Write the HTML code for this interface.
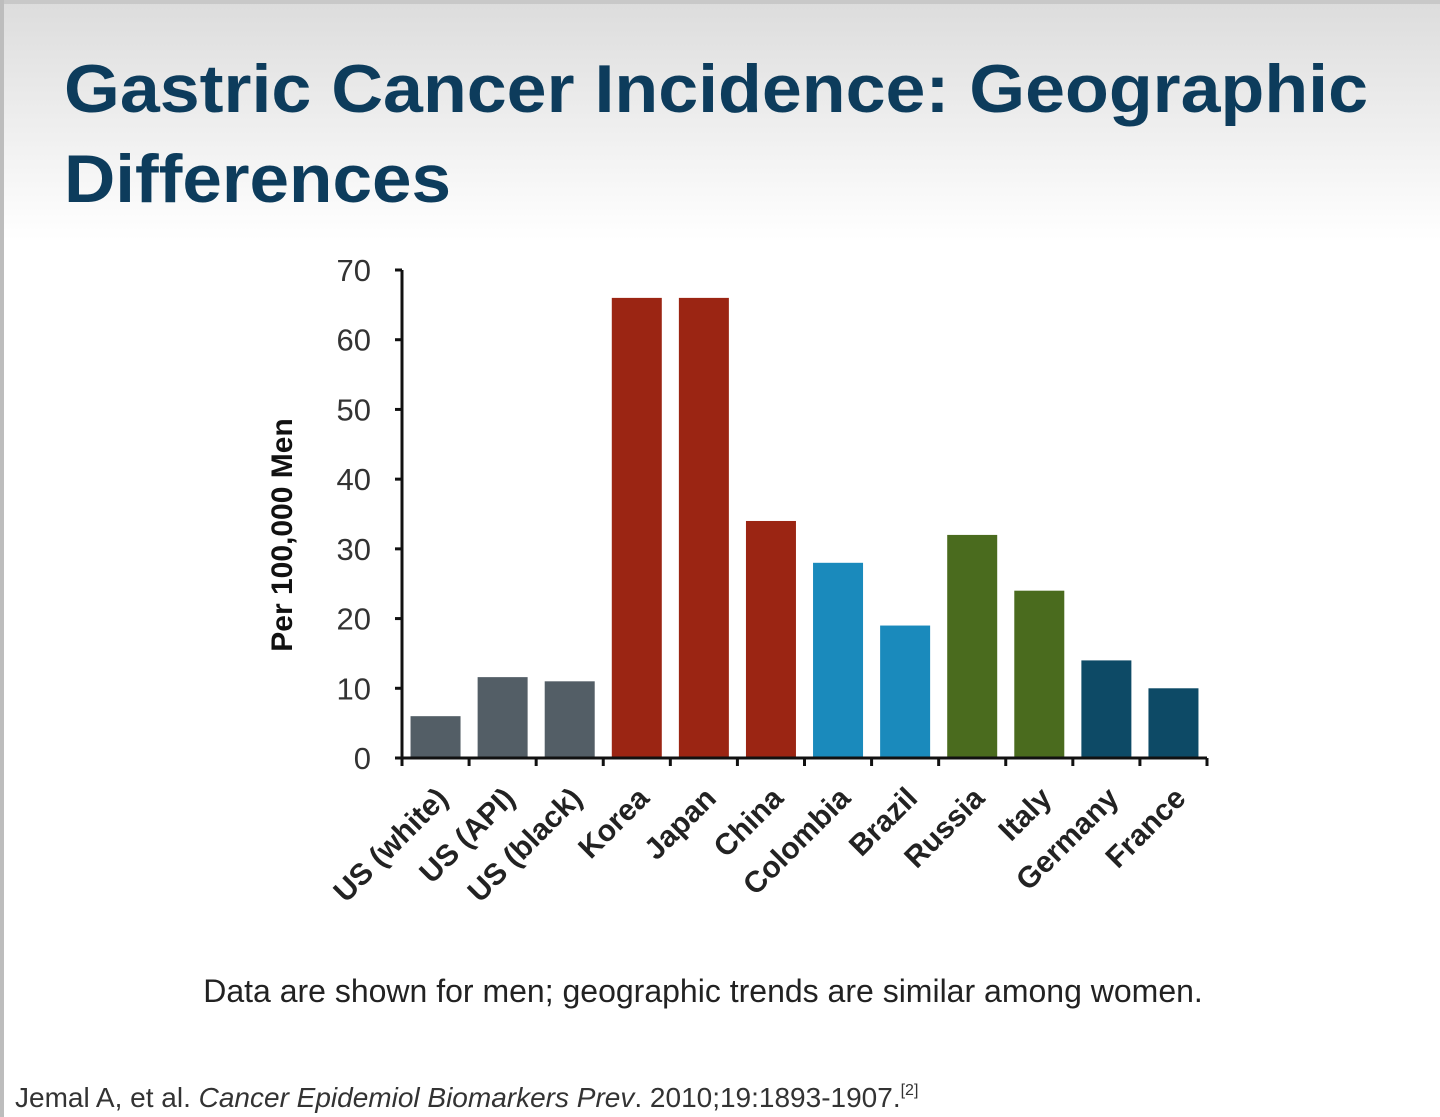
<!DOCTYPE html>
<html><head><meta charset="utf-8">
<style>
html,body{margin:0;padding:0;width:1440px;height:1117px;overflow:hidden;background:#fff;font-family:"Liberation Sans",Arial,sans-serif;}
svg{display:block}
</style></head>
<body>
<svg id="chart" width="1440" height="1117" viewBox="0 0 1440 1117" xmlns="http://www.w3.org/2000/svg">
<defs>
<linearGradient id="bg" x1="0" y1="0" x2="0" y2="1">
<stop offset="0" stop-color="#dcdcdc"/><stop offset="1" stop-color="#ffffff"/>
</linearGradient>
</defs>
<rect x="0" y="0" width="1440" height="240" fill="url(#bg)"/>
<rect x="0" y="0" width="1440" height="4" fill="#c8c8c8"/>
<rect x="0" y="0" width="4" height="1117" fill="#bdbdbd"/>
<text x="64" y="112" font-size="68" font-weight="bold" fill="#0d3c5c" textLength="1304" lengthAdjust="spacingAndGlyphs">Gastric Cancer Incidence: Geographic</text>
<text x="64" y="202" font-size="68" font-weight="bold" fill="#0d3c5c" textLength="387" lengthAdjust="spacingAndGlyphs">Differences</text>
<text transform="translate(292,535) rotate(-90)" text-anchor="middle" font-size="30" font-weight="bold" fill="#111">Per 100,000 Men</text>
<g id="plot"></g>
<text x="703" y="1002" text-anchor="middle" font-size="32" fill="#222">Data are shown for men; geographic trends are similar among women.</text>
<text x="15" y="1107" font-size="28" fill="#333">Jemal A, et al. <tspan font-style="italic">Cancer Epidemiol Biomarkers Prev</tspan>. 2010;19:1893-1907.<tspan font-size="16" dy="-12">[2]</tspan></text>
</svg>
<script>
const categories = ["US (white)","US (API)","US (black)","Korea","Japan","China","Colombia","Brazil","Russia","Italy","Germany","France"];
const values = [6, 11.6, 11, 66, 66, 34, 28, 19, 32, 24, 14, 10];
const groups = ["us","us","us","asia","asia","asia","sa","sa","eu","eu","eu2","eu2"];
const yTicks = [0,10,20,30,40,50,60,70];
const colors = {us:"#535e66",asia:"#9b2513",sa:"#1a8abc",eu:"#4a6b1e",eu2:"#0d4a66"};
const NS="http://www.w3.org/2000/svg";
const x0=402,x1=1207,y0=758,y70=270;
const ymax=70;
const yScale=v=>y0-(v/ymax)*(y0-y70);
const step=(x1-x0)/categories.length;
const xCenter=i=>x0+step*(i+0.5);
const plot=document.getElementById('plot');
function mk(tag,attrs){const e=document.createElementNS(NS,tag);for(const k in attrs)e.setAttribute(k,attrs[k]);plot.appendChild(e);return e;}
values.forEach((v,i)=>{
  const bw=50;
  const r=mk('rect',{x:xCenter(i)-bw/2,y:yScale(v),width:bw,height:y0-yScale(v),fill:colors[groups[i]]});
  
  
});
const ax=mk('line',{x1:x0,y1:y70,x2:x0,y2:y0,stroke:'#111','stroke-width':3});


const bx=mk('line',{x1:x0,y1:y0,x2:x1,y2:y0,stroke:'#111','stroke-width':3});


yTicks.forEach(t=>{
  const y=yScale(t);
  const l=mk('line',{x1:x0-7,y1:y,x2:x0,y2:y,stroke:'#111','stroke-width':3});
  
  
  const tx=mk('text',{x:371,y:y+11,'text-anchor':'end','font-size':31,fill:'#333'});
  tx.textContent=t;
  
  
});
for(let i=0;i<=categories.length;i++){
  const x=x0+step*i;
  const l=mk('line',{x1:x,y1:y0,x2:x,y2:y0+8,stroke:'#111','stroke-width':3});
  
  
}
categories.forEach((c,i)=>{
  const x=xCenter(i)+14,y=y0+42;
  const t=mk('text',{transform:`translate(${x},${y}) rotate(-45)`,'text-anchor':'end','font-size':30,'font-weight':'bold',fill:'#222'});
  t.textContent=c;
  
  
});
</script>
</body></html>
